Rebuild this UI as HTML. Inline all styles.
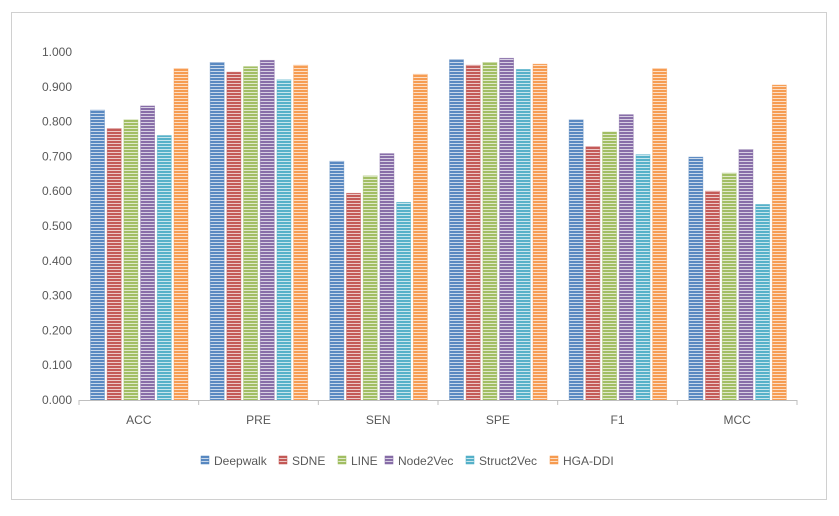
<!DOCTYPE html>
<html><head><meta charset="utf-8"><style>
body{margin:0;background:#fff;}
svg{display:block;font-family:"Liberation Sans",sans-serif;}
</style></head><body>
<svg id="chart" width="839" height="516">
<defs id="defs"></defs>
<rect x="11.5" y="12.5" width="815" height="487" fill="#fff" stroke="#d0d0d0"/>
<g id="yaxis"></g>
<g id="bars"></g>
<g id="xaxis"></g>
<g id="legend"></g>
</svg>
<script>
const categories = ["ACC","PRE","SEN","SPE","F1","MCC"];
const seriesNames = ["Deepwalk","SDNE","LINE","Node2Vec","Struct2Vec","HGA-DDI"];
const deepwalk = [0.833,0.970,0.686,0.978,0.805,0.698];
const sdne = [0.780,0.942,0.594,0.962,0.728,0.600];
const line = [0.805,0.958,0.644,0.970,0.770,0.652];
const node2vec = [0.845,0.976,0.708,0.982,0.820,0.720];
const struct2vec = [0.760,0.920,0.568,0.950,0.705,0.562];
const hgaddi = [0.952,0.962,0.936,0.965,0.952,0.905];
const yTicks = [0,0.1,0.2,0.3,0.4,0.5,0.6,0.7,0.8,0.9,1.0];
const seriesValues = [deepwalk,sdne,line,node2vec,struct2vec,hgaddi];
const colors = ["#4f81bd","#c0504d","#9bbb59","#8064a2","#4bacc6","#f79646"];

const NS="http://www.w3.org/2000/svg";
const X0=79, X1=797, Y0=400, YH=348;
const groupW=(X1-X0)/categories.length;
const yScale=v=>Y0-v*YH;
const xGroup=i=>X0+i*groupW;
function mk(tag,attrs,parent){const e=document.createElementNS(NS,tag);for(const k in attrs)e.setAttribute(k,attrs[k]);parent.appendChild(e);return e;}

const defs=document.getElementById('defs');
colors.forEach((c,i)=>{
  const p=mk('pattern',{id:'pat'+i,width:4,height:3,patternUnits:'userSpaceOnUse'},defs);
  mk('rect',{x:0,y:0,width:4,height:3,fill:c,'fill-opacity':0.3},p);
  mk('rect',{x:0,y:0,width:4,height:2,fill:c,'fill-opacity':0.9},p);
});

const ya=document.getElementById('yaxis');
yTicks.forEach(t=>{
  const tx=mk('text',{x:72,y:yScale(t)+4,'text-anchor':'end','font-size':12,fill:'#595959'},ya);
  tx.textContent=t.toFixed(3);
  
  
});

const bars=document.getElementById('bars');
const barW=14, step=16.7, off=11.5;
seriesValues.forEach((vals,s)=>{
  vals.forEach((v,i)=>{
    const x=xGroup(i)+off+s*step;
    const r=mk('rect',{x:x,y:yScale(v),width:barW,height:Y0-yScale(v),fill:'url(#pat'+s+')',stroke:colors[s],'stroke-width':0.8,'stroke-opacity':0.5},bars);
    
    
  });
});

const xa=document.getElementById('xaxis');
mk('line',{x1:X0,y1:Y0+0.5,x2:X1,y2:Y0+0.5,stroke:'#bfbfbf','stroke-width':1},xa);
categories.forEach((c,i)=>{
  mk('line',{x1:xGroup(i),y1:Y0,x2:xGroup(i),y2:Y0+5,stroke:'#bfbfbf'},xa);
  const t=mk('text',{x:xGroup(i)+groupW/2,y:424,'text-anchor':'middle','font-size':12,fill:'#595959'},xa);
  t.textContent=c;
  
  
});
mk('line',{x1:X1,y1:Y0,x2:X1,y2:Y0+5,stroke:'#bfbfbf'},xa);

const lg=document.getElementById('legend');
const lx=[201,279,338,385,466,550];
seriesNames.forEach((n,s)=>{
  const g=mk('g',{},lg);
  
  
  mk('rect',{x:lx[s],y:456,width:8,height:8,fill:'url(#pat'+s+')',stroke:colors[s],'stroke-width':0.5},g);
  const t=mk('text',{x:lx[s]+13,y:465,'font-size':12,fill:'#595959'},g);
  t.textContent=n;
});
</script>
</body></html>
